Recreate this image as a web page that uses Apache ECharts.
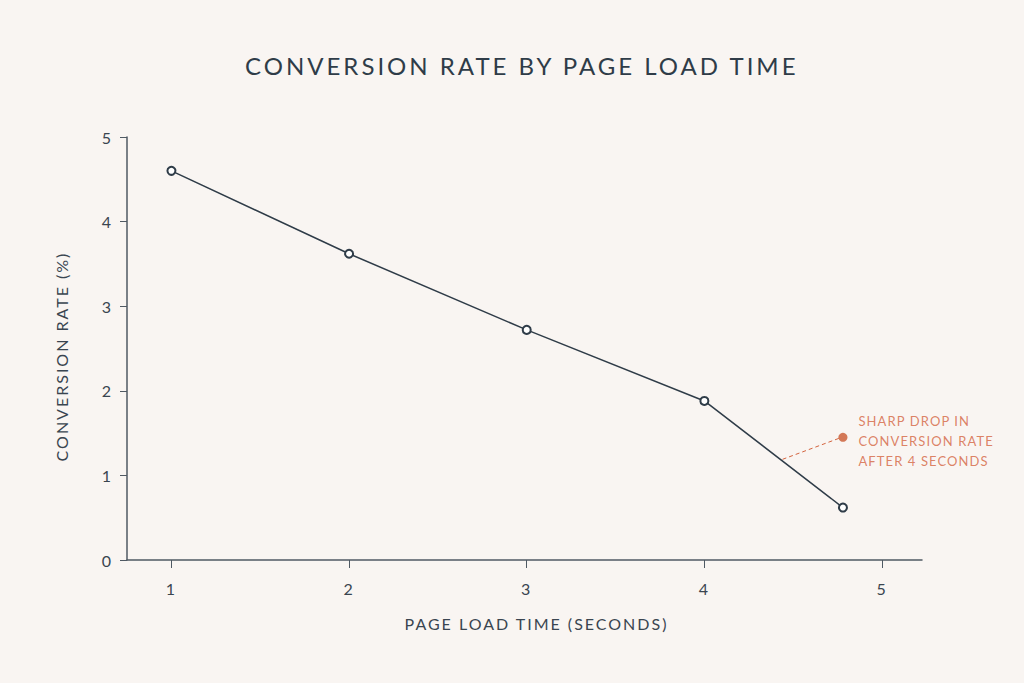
<!DOCTYPE html>
<html>
  <head>
    <meta charset="utf-8">
    <title>Conversion rate by page load time</title>
    <style>
    html,body {margin:0;padding:0;background:#f9f5f2;}
    #chart {width:1024px;height:683px;}
    #chart text {letter-spacing:2px;}
    #chart text[style*="24px"] {letter-spacing:3px;}
    #chart text[style*="13px"] {letter-spacing:1.1px;}
    </style>
    <script src="https://cdn.jsdelivr.net/npm/echarts@6/dist/echarts.min.js"></script>
    <script>
    // data
    const loadTime=[1, 2, 3, 4, 4.78];
    const conversion=[4.6, 3.62, 2.72, 1.88, 0.62];
    const xTicks=[1, 2, 3, 4, 5];
    const noteDot=[4.78, 1.45];
    const noteLeader=[[4.44, 1.19], [4.76, 1.44]];
    const noteText=['SHARP DROP IN', 'CONVERSION RATE', 'AFTER 4 SECONDS'];

    const ink='#2f3c48';
    const axisInk='#4f5963';
    const accent='#d4643f';

    window.onload=function (){
      let chart=echarts.init(document.getElementById('chart'), null, {renderer:'svg'});

      let option={
        backgroundColor:'#f9f5f2',
        textStyle:{fontFamily:'Lato'},
        title:{
          text:'CONVERSION RATE BY PAGE LOAD TIME',
          left:240,
          top:48,
          textStyle:{fontFamily:'Lato', fontSize:24, fontWeight:'normal', color:'#2f3c48'}
        },
        grid:{left:127, right:102, top:137, bottom:123, containLabel:false},
        xAxis:{
          type:'value',
          min:0.75,
          max:5.225,
          name:'PAGE LOAD TIME (SECONDS)',
          nameLocation:'middle',
          nameGap:55,
          nameTextStyle:{fontSize:16, color:'#3a4550', padding:[0, 0, 0, 24]},
          axisLine:{show:true, onZero:false, lineStyle:{color:axisInk, width:1.5}},
          axisTick:{show:true, inside:false, length:8, customValues:xTicks, lineStyle:{color:axisInk}},
          axisLabel:{customValues:xTicks, margin:20, fontSize:16, color:'#3a4550'},
          splitLine:{show:false}
        },
        yAxis:{
          type:'value',
          min:0,
          max:5,
          interval:1,
          name:'CONVERSION RATE (%)',
          nameLocation:'middle',
          nameGap:58,
          nameTextStyle:{fontSize:16, color:'#3a4550', padding:[0, 16, 0, 0]},
          axisLine:{show:true, lineStyle:{color:axisInk, width:1.5}},
          axisTick:{show:true, inside:false, length:7, lineStyle:{color:axisInk}},
          axisLabel:{margin:14, fontSize:16, color:'#3a4550'},
          splitLine:{show:false}
        },
        series:[
          {
            type:'line',
            data:loadTime.map((t, i)=>[t, conversion[i]]),
            symbol:'emptyCircle',
            symbolSize:8,
            lineStyle:{color:ink, width:1.5},
            itemStyle:{color:ink, borderWidth:1.5},
            z:3
          },
          {
            type:'line',
            data:noteLeader,
            symbol:'none',
            lineStyle:{color:accent, width:1, type:[4, 3]},
            silent:true,
            z:2
          },
          {
            type:'scatter',
            data:[noteDot],
            symbolSize:9,
            itemStyle:{color:'#c9592f'},
            label:{
              show:true,
              position:'right',
              distance:11,
              offset:[0, 4],
              formatter:noteText.join('\n'),
              color:accent,
              fontSize:13,
              lineHeight:20,
              align:'left'
            },
            silent:true
          }
        ]
      };

      chart.setOption(option);
    };
    </script>
  </head>
  <body>
    <div id="chart"></div>
  </body>
</html>
